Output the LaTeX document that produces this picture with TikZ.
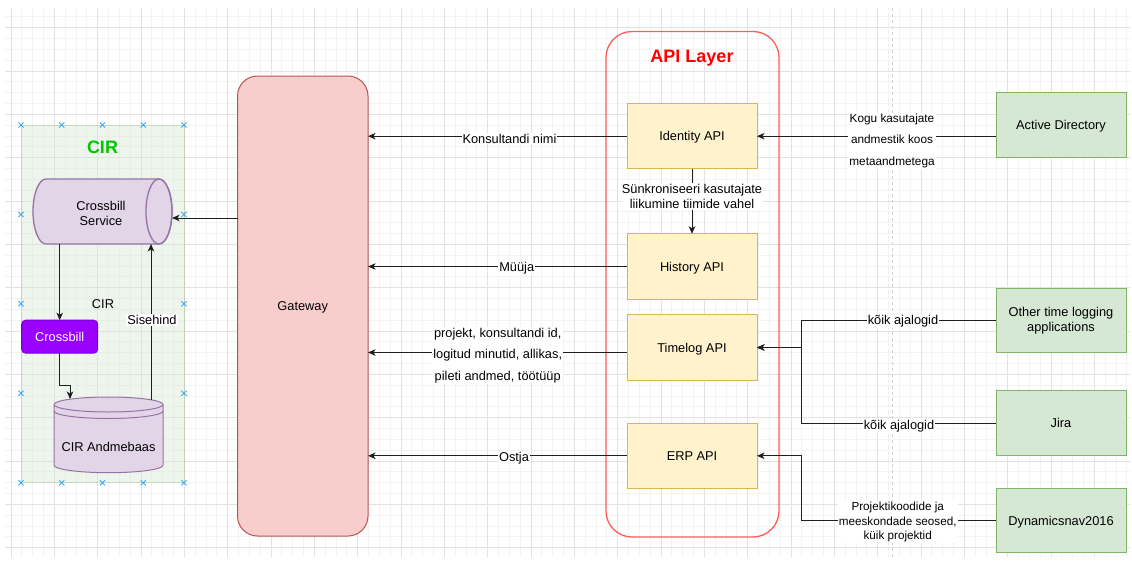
\documentclass[tikz,border=0pt]{standalone}
\usepackage{fontspec}
\setmainfont{Liberation Sans}
\usetikzlibrary{arrows.meta,calc}

\definecolor{apiFill}{HTML}{FFF2CC}
\definecolor{apiDraw}{HTML}{D6B656}
\definecolor{extFill}{HTML}{D5E8D4}
\definecolor{extDraw}{HTML}{82B366}
\definecolor{gwFill}{HTML}{F8CECC}
\definecolor{gwDraw}{HTML}{B85450}
\definecolor{purFill}{HTML}{E1D5E7}
\definecolor{purDraw}{HTML}{9673A6}
\definecolor{cbFill}{HTML}{9A00FF}
\definecolor{cbDraw}{HTML}{7A00CC}
\definecolor{layerRed}{HTML}{FF5C5C}
\definecolor{titleRed}{HTML}{FF0000}
\definecolor{titleGreen}{HTML}{00C800}
\definecolor{handleBlue}{HTML}{3FA9F5}
\definecolor{gridMinor}{HTML}{F3F3F3}
\definecolor{gridMajor}{HTML}{E2E2E2}
\definecolor{pageLine}{HTML}{D2D2D2}

\tikzset{
  multi/.style={font=\fontsize{12.8}{15}\selectfont, inner sep=0pt, outer sep=0pt, line width=1pt,
               align=center},
  base/.style={multi, text height=9.2pt, text depth=0pt},
  apibox/.style={base, draw=apiDraw, fill=apiFill, minimum width=130, minimum height=65.5},
  extbox/.style={base, draw=extDraw, fill=extFill, minimum width=130, minimum height=64.5},
  extboxmulti/.style={multi, draw=extDraw, fill=extFill, minimum width=130, minimum height=64.5},
  conn/.style={draw=black!88, line width=1pt, -{Stealth[length=7.5pt,width=6.5pt,inset=2pt]}},
  lbl/.style={fill=white, inner sep=1pt, align=center, font=\fontsize{12.8}{21.5}\selectfont},
  lblsmall/.style={fill=white, inner sep=1pt, align=center, font=\fontsize{11.8}{21.5}\selectfont},
  lbltight/.style={fill=white, inner sep=1pt, align=center, font=\fontsize{11.7}{14.2}\selectfont},
  lblsync/.style={fill=white, inner sep=1pt, align=center, font=\fontsize{12.8}{15}\selectfont},
  handle/.style={draw=handleBlue, line width=0.9pt},
  minorline/.style={draw=gridMinor, line width=1pt},
  majorline/.style={draw=gridMajor, line width=1pt},
}

\begin{document}
\begin{tikzpicture}[x=1pt,y=-1pt]
\useasboundingbox (0,0) rectangle (1132,562);
\fill[white] (0,0) rectangle (1132,562);

% canvas grid
\foreach \k in {0,...,103} {\draw[minorline] ({11+10.8333*\k},8) -- ({11+10.8333*\k},557);}
\foreach \k in {-1,...,48} {\draw[minorline] (5,{27.67+10.8333*\k}) -- (1130,{27.67+10.8333*\k});}
\foreach \k in {0,...,25} {\draw[majorline] ({11+43.3333*\k},8) -- ({11+43.3333*\k},557);}
\foreach \k in {0,...,12} {\draw[majorline] (5,{27.67+43.3333*\k}) -- (1130,{27.67+43.3333*\k});}

% page break line
\draw[pageLine, dashed, dash pattern=on 3pt off 3pt, line width=0.8pt] (892,8) -- (892,557);

% CIR group
\node[base, draw=extDraw, draw opacity=0.35, fill=extFill, fill opacity=0.4,
      minimum width=163, minimum height=357.7] (cir) at (102.5,303.85) {};
\node[font=\bfseries\fontsize{18}{20}\selectfont, text=titleGreen] (cirtitle) at (102.5,147) {CIR};
\node[base] (cirsub) at (103,304) {CIR};

% Crossbill Service (horizontal cylinder)
\filldraw[fill=purFill, draw=purDraw, line width=1.3pt]
  (46,179) -- (159,179) arc (-90:90:13 and 32.5) -- (46,244) arc (90:270:13 and 32.5) -- cycle;
\draw[purDraw, line width=1.3pt] (159,211.5) ellipse (13 and 32.5);
\node[base, minimum width=139, minimum height=65] (svc) at (102.5,211.5) {};
\node[multi] (svctext) at (101,213) {Crossbill\\Service};

% Crossbill
\node[base, draw=cbDraw, fill=cbFill, text=white, rounded corners=4,
      minimum width=76, minimum height=33] (crossbill) at (59.7,336.7) {Crossbill};

% CIR Andmebaas (data store)
\filldraw[fill=purFill, draw=purDraw, line width=1pt]
  (54,404.5) -- (54,465.2) arc (180:0:54.5 and 7.5) -- (163,404.5) arc (0:-180:54.5 and 7.5) -- cycle;
\draw[purDraw, line width=1pt] (54,404.5) arc (180:0:54.5 and 7.5);
\draw[purDraw, line width=1pt] (54,411) arc (180:0:54.5 and 7.5);
\node[base, minimum width=109, minimum height=76] (db) at (108.5,434.8) {};
\node[base] (dbtext) at (108.5,447) {CIR Andmebaas};

% selection handles of the CIR group
\foreach \hx/\hy in {21/125, 61.75/125, 102.5/125, 143.25/125, 184/125,
                     21/482.7, 61.75/482.7, 102.5/482.7, 143.25/482.7, 184/482.7,
                     21/214.4, 21/303.8, 21/393.3, 184/214.4, 184/303.8, 184/393.3}
  {\draw[handle] (\hx-2.6,\hy-2.6) -- (\hx+2.6,\hy+2.6) (\hx-2.6,\hy+2.6) -- (\hx+2.6,\hy-2.6);}

% Gateway
\node[base, draw=gwDraw, fill=gwFill, rounded corners=20,
      minimum width=130.5, minimum height=460] (gateway) at (302.75,306) {Gateway};

% API layer
\node[base, draw=layerRed, line width=1.3pt, rounded corners=26,
      minimum width=173, minimum height=505.5] (apilayer) at (692.5,284.25) {};
\node[font=\bfseries\fontsize{18}{20}\selectfont, text=titleRed] (apititle) at (692,58) {API Layer};

\node[apibox] (identity) at (692,136.2) {Identity API};
\node[apibox] (history)  at (692,266.5) {History API};
\node[apibox] (timelog)  at (692,347.5) {Timelog API};
\node[apibox] (erp)      at (692,455.8) {ERP API};

% external systems
\node[extbox] (ad)    at (1061,125.2) {Active Directory};
\node[extboxmulti] (other) at (1061,320.5) {Other time logging\\applications};
\node[extbox] (jira)  at (1061,423.2) {Jira};
\node[extbox] (dyn)   at (1061,520.5) {Dynamicsnav2016};

% ports
\coordinate (svcin)  at (172,218);
\coordinate (svcout) at (59.7,244);
\coordinate (bend)   at (59.7,385);
\coordinate (dbin)   at (70,399);
\coordinate (dbout)  at (151,400);
\coordinate (svcback) at (151,244);
\coordinate (tlout)  at (627,352.5);
\coordinate (tj)     at (801,347.5);
\coordinate (ej)     at (801,455.8);

% CIR internal flows
\draw[conn] (gateway.west |- svcin) -- (svcin);
\draw[conn] (svcout) -- (crossbill.north);
\draw[conn] (crossbill.south) -- (bend) -| (dbin);
\draw[conn] (dbout) -- (svcback);
\node[lblsync] (lsise) at (152,320) {Sisehind};

% API layer to gateway
\draw[conn] (identity.west) -- (identity.west -| gateway.east);
\draw[conn] (history.west) -- (history.west -| gateway.east);
\draw[conn] (tlout) -- (tlout -| gateway.east);
\draw[conn] (erp.west) -- (erp.west -| gateway.east);
\draw[conn] (identity.south) -- (history.north);

\node[lbl] (lkons) at (509.5,138.5) {Konsultandi nimi};
\node[lbl] (lmuu)  at (516.7,268.5) {Müüja};
\node[lbl] (ltime) at (497.7,355.5) {projekt, konsultandi id,\\logitud minutid, allikas,\\pileti andmed, töötüüp};
\node[lbl] (lost)  at (514,458.5) {Ostja};
\node[lblsync] (lsync) at (692,196.5) {Sünkroniseeri kasutajate\\liikumine tiimide vahel};

% external systems to API layer
\draw[conn] (identity.east -| ad.west) -- (identity.east);
\draw[conn] (other.west) -| (tj) -- (timelog.east);
\draw[conn] (jira.west) -| (tj) -- (timelog.east);
\draw[conn] (dyn.west) -| (ej) -- (erp.east);

\node[lblsmall] (lkogu) at (892,140.5) {Kogu kasutajate\\andmestik koos\\metaandmetega};
\node[lbl] (lkoik1) at (903,320.7) {kõik ajalogid};
\node[lbl] (lkoik2) at (899,425.7) {kõik ajalogid};
\node[lbltight] (lproj) at (897.7,522) {Projektikoodide ja\\meeskondade seosed,\\küik projektid};
\end{tikzpicture}
\end{document}
